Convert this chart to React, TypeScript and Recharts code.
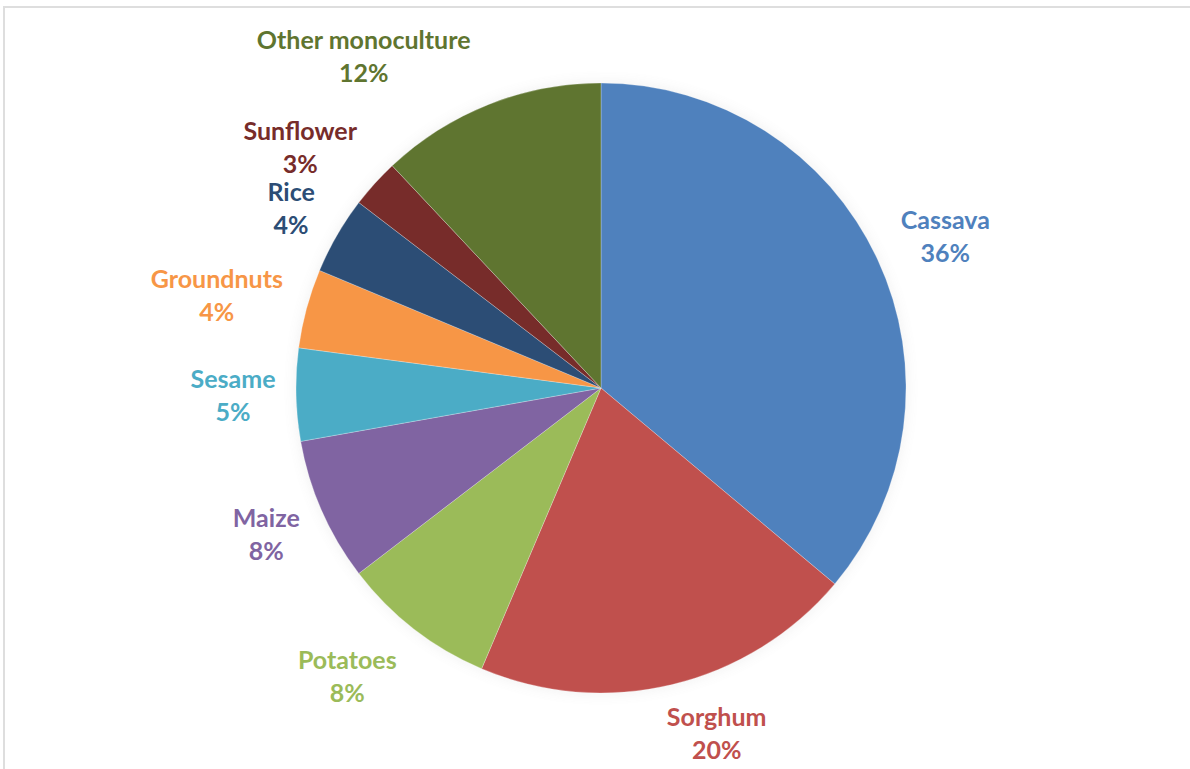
import React from 'react';
import { PieChart, Pie, Cell } from 'recharts';

const crops = ['Cassava', 'Sorghum', 'Potatoes', 'Maize', 'Sesame', 'Groundnuts', 'Rice', 'Sunflower', 'Other monoculture'];
const shares = [36.1, 20.3, 8.2, 7.6, 4.9, 4.2, 4.1, 2.6, 12.0];
const colors = ['#4F81BD', '#C0504D', '#9BBB59', '#8064A2', '#4BACC6', '#F79646', '#2C4D75', '#772C2A', '#5F7530'];

const data = crops.map((name, i) => ({ name, value: shares[i] }));

// Excel's best-fit moves a few labels a little around the pie
// angle: degrees, + = counter-clockwise; push: extra px away from the pie
const labelNudge: Record<string, { angle?: number; push?: number }> = {
  'Other monoculture': { angle: 14 },
  Sunflower: { angle: 3.5 },
  Potatoes: { angle: -3.5, push: 8 },
  Sorghum: { angle: 5 },
  Cassava: { angle: -1.4 },
  Groundnuts: { angle: 1.6 },
};

const FONT = '"Lato", "Open Sans", sans-serif';
const FONT_SIZE = 25;
const LINE_GAP = 33;
const RAD = Math.PI / 180;

let ctx: CanvasRenderingContext2D | null = null;
const textWidth = (s: string) => {
  if (!ctx) ctx = document.createElement('canvas').getContext('2d');
  if (!ctx) return s.length * FONT_SIZE * 0.55;
  ctx.font = `bold ${FONT_SIZE}px ${FONT}`;
  return ctx.measureText(s).width;
};

const renderLabel = (props: any) => {
  const { cx, cy, midAngle, outerRadius, name, percent, index } = props;
  const pct = `${Math.round(percent * 100)}%`;
  const nudge = labelNudge[name] || {};
  const hw = Math.max(textWidth(name), textWidth(pct)) / 2;
  const hh = 25;
  const ang = (midAngle + (nudge.angle || 0)) * RAD;
  const dist = outerRadius + 20 + (nudge.push || 0) + hw * Math.abs(Math.cos(ang)) + hh * Math.abs(Math.sin(ang));
  const x = cx + dist * Math.cos(ang);
  const y = cy - dist * Math.sin(ang);
  return (
    <text
      x={x}
      y={y}
      textAnchor="middle"
      fill={colors[index]}
      fontFamily={FONT}
      fontWeight="bold"
      fontSize={FONT_SIZE}
    >
      <tspan x={x} y={y - 8}>{name}</tspan>
      <tspan x={x} y={y - 8 + LINE_GAP}>{pct}</tspan>
    </text>
  );
};

const App: React.FC = () => {
  return (
    <div style={{ position: 'absolute', left: 0, top: 0, width: 1190, height: 769, overflow: 'hidden', background: '#fff' }}>
      <style>{'.pie-shadow { filter: blur(4px); opacity: 0.3; }'}</style>
      <div
        style={{
          position: 'absolute',
          left: 3,
          top: 6,
          width: 1200,
          height: 800,
          borderTop: '2px solid #dedede',
          borderLeft: '2px solid #dedede',
        }}
      />
      <div style={{ position: 'absolute', left: 0, top: 0 }}>
        <PieChart width={1190} height={769} margin={{ top: 0, right: 0, bottom: 0, left: 0 }}>
          <Pie
            data={data}
            dataKey="value"
            nameKey="name"
            cx={601}
            cy={388}
            outerRadius={307}
            startAngle={90}
            endAngle={-270}
            fill="#7f7f7f"
            stroke="none"
            className="pie-shadow"
            legendType="none"
            label={false}
            labelLine={false}
            isAnimationActive={false}
          />
          <Pie
            data={data}
            dataKey="value"
            nameKey="name"
            cx={601}
            cy={388}
            outerRadius={305}
            startAngle={90}
            endAngle={-270}
            stroke="#ffffff"
            strokeWidth={0.5}
            strokeOpacity={0.5}
            label={renderLabel}
            labelLine={false}
            isAnimationActive={false}
          >
            {data.map((entry, i) => (
              <Cell key={`cell-${entry.name}`} fill={colors[i]} />
            ))}
          </Pie>
        </PieChart>
      </div>
    </div>
  );
};

export default App;
